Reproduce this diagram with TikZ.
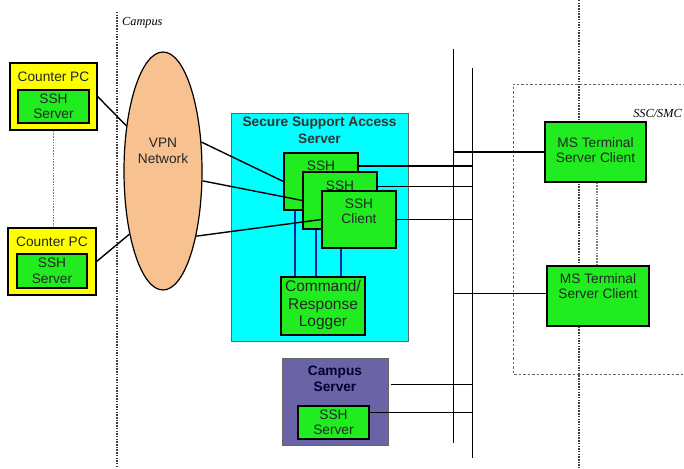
\documentclass[tikz,border=0pt]{standalone}
\usepackage{fontspec}
\setmainfont{Liberation Sans}
\newfontfamily\serifit{Liberation Serif}
\usetikzlibrary{shapes.geometric,calc}
\definecolor{bgreen}{RGB}{32,236,32}
\definecolor{byellow}{RGB}{255,255,0}
\definecolor{bcyan}{RGB}{0,255,255}
\definecolor{peach}{RGB}{248,194,144}
\definecolor{purp}{RGB}{106,100,166}
\definecolor{bblue}{RGB}{25,35,170}
\tikzset{
  box/.style={draw=black, line width=1.2pt, inner sep=0pt},
  greenbox/.style={box, fill=bgreen},
  txt/.style={font=\fontsize{13.7}{15.5}\selectfont, align=center, inner sep=0pt, text=black!85},
  btxt/.style={font=\fontsize{13.7}{16.5}\selectfont\bfseries, align=center, inner sep=0pt},
  conn/.style={draw=black, line width=1.1pt},
  thin conn/.style={draw=black, line width=0.8pt},
  gdot/.style={draw=gray, line width=1.6pt, dash pattern=on 1.6pt off 1.2pt},
  zone/.style={draw=black!75, line width=1.2pt, dash pattern=on 1.5pt off 1.2pt},
  itl/.style={font=\serifit\itshape\fontsize{12.3}{14}\selectfont, inner sep=0pt},
}
\begin{document}
\begin{tikzpicture}[x=1pt,y=-1pt]
\useasboundingbox (0,0) rectangle (684,468);
% zones
\coordinate (campusTop) at (117,12);
\coordinate (campusBot) at (117,468);
\draw[zone] (campusTop) -- (campusBot);
\node[itl, anchor=west] (campuslbl) at (122,23) {Campus};
\coordinate (sscTop) at (579,0);
\coordinate (sscBot) at (579,468);
\draw[zone] (sscTop) -- (sscBot);
\coordinate (sscNW) at (513,84);
\coordinate (sscSE) at (690,374);
\draw[draw=black!60, line width=0.8pt, dash pattern=on 2.5pt off 2pt] (690,84) -- (sscNW) -- (513,374) -- (sscSE);
\node[itl, anchor=east] (ssclbl) at (682,113) {SSC/SMC};

% bus lines
\coordinate (busAtop) at (453,49);
\coordinate (busAbot) at (453,443);
\coordinate (busBtop) at (472,68);
\coordinate (busBbot) at (472,458);
\draw[thin conn] (busAtop) -- (busAbot);
\draw[thin conn] (busBtop) -- (busBbot);

% Counter PCs
\node[box, fill=byellow, minimum width=87, minimum height=67] (cpc1) at (53.5,96.5) {};
\node[txt] (cpc1t) at (53.5,77) {Counter PC};
\node[greenbox, minimum width=71, minimum height=33] (cpc1s) at (53.5,106.5) {};
\node[txt] (cpc1st) at (53.5,106.5) {SSH\\Server};
\node[box, fill=byellow, minimum width=88, minimum height=67] (cpc2) at (52,261.5) {};
\node[txt] (cpc2t) at (52,242) {Counter PC};
\node[greenbox, minimum width=70, minimum height=34] (cpc2s) at (52,271) {};
\node[txt] (cpc2st) at (52,271) {SSH\\Server};
\draw[gdot] (cpc1.south) -- (cpc1.south |- cpc2.north);

% VPN
\node[ellipse, draw=black, line width=1.2pt, fill=peach, minimum width=78, minimum height=238, inner sep=0pt] (vpn) at (163,171) {};
\node[txt] (vpnt) at (163,151) {VPN\\Network};
\draw[conn, line width=1.4pt] (cpc1.east) -- (vpn.129);
\draw[conn, line width=1.4pt] (cpc2.east) -- (vpn.242);

% SSAS
\node[draw=black!60, line width=0.6pt, fill=bcyan, minimum width=177, minimum height=228, inner sep=0pt] (ssas) at (319.5,227) {};
\node[btxt, text=black!80] (ssast) at (319.5,130.5) {Secure Support Access\\Server};
\node[greenbox, minimum width=74, minimum height=57] (ssh1) at (321,181.5) {};
\node[txt] (ssh1t) at (321,166) {SSH};
\node[greenbox, minimum width=74, minimum height=57] (ssh2) at (340,200.5) {};
\node[txt] (ssh2t) at (340,185.5) {SSH};
\node[greenbox, minimum width=74, minimum height=57] (ssh3) at (359,219.5) {};
\node[txt] (ssh3t) at (359,211.5) {SSH\\Client};
\node[greenbox, minimum width=84, minimum height=58] (logger) at (323,306) {};
\node[txt, font=\fontsize{15.5}{17.5}\selectfont] (loggert) at (323,305) {Command/\\Response\\Logger};
\draw[draw=bblue, line width=1.1pt] ([xshift=-26pt]ssh1.south) -- ([xshift=-26pt]ssh1.south |- logger.north);
\draw[draw=bblue, line width=1.1pt] ([xshift=-24pt]ssh2.south) -- ([xshift=-24pt]ssh2.south |- logger.north);
\draw[draw=bblue, line width=1.1pt] ([xshift=-18pt]ssh3.south) -- ([xshift=-18pt]ssh3.south |- logger.north);

% VPN to SSH
\draw[conn, line width=1.4pt] (vpn.37) -- (ssh1.west);
\draw[conn, line width=1.4pt] (vpn.346) -- (ssh2.west);
\draw[conn, line width=1.4pt] (vpn.297) -- (ssh3.west);

% SSH to bus
\draw[conn, line width=1.3pt] ([yshift=15.5pt]ssh1.east) -- ([yshift=15.5pt]ssh1.east -| busBtop);
\draw[thin conn] ([yshift=14.5pt]ssh2.east) -- ([yshift=14.5pt]ssh2.east -| busBtop);
\draw[thin conn] (ssh3.east) -- (ssh3.east -| busBtop);

% MS terminals
\node[greenbox, minimum width=101, minimum height=60] (ms1) at (595.5,152) {};
\node[txt] (ms1t) at (595.5,150) {MS Terminal\\Server Client};
\node[greenbox, minimum width=102, minimum height=60] (ms2) at (598,296) {};
\node[txt] (ms2t) at (598,286) {MS Terminal\\Server Client};
\draw[gdot] ([xshift=1.5pt]ms1.south) -- ([xshift=1.5pt]ms1.south |- ms2.north);
\draw[conn, line width=1.4pt] (ms1.west) -- (ms1.west -| busAtop);
\draw[thin conn, line width=1pt] ([yshift=3pt]ms2.west) -- ([yshift=3pt]ms2.west -| busAtop);

% Campus server
\node[draw=black!60, line width=0.6pt, fill=purp, minimum width=106, minimum height=87, inner sep=0pt] (cs) at (335,401.5) {};
\node[btxt, text=black!80!blue] (cst) at (335,379) {Campus\\Server};
\node[greenbox, minimum width=71, minimum height=33] (css) at (333.5,422.5) {};
\node[txt] (csst) at (333.5,422.5) {SSH\\Server};
\draw[thin conn, line width=1pt] ([xshift=3pt,yshift=17.5pt]cs.east) -- ([yshift=17.5pt]cs.east -| busBtop);
\draw[thin conn, line width=1pt] ([yshift=10pt]css.east) -- ([yshift=10pt]css.east -| busBtop);
\end{tikzpicture}
\end{document}
